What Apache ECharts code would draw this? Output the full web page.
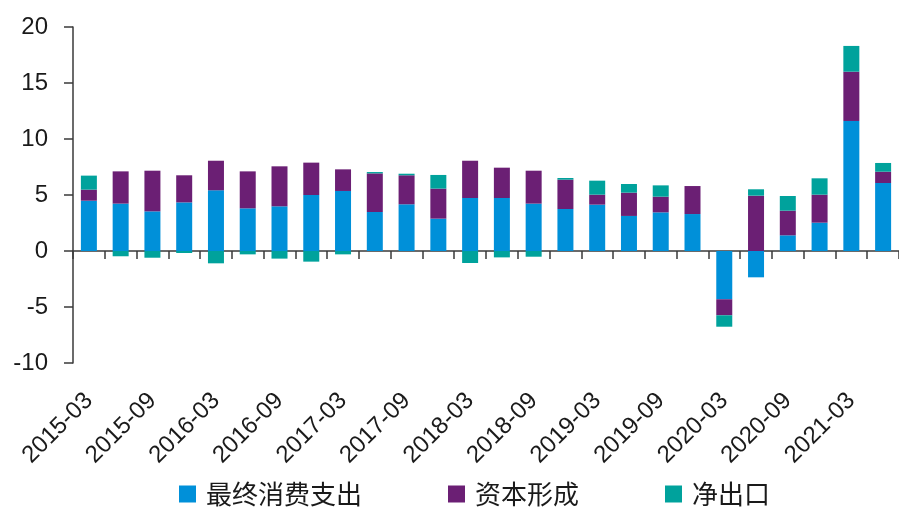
<!DOCTYPE html>
<html>
<head>
<meta charset="utf-8">
<script src="https://cdn.jsdelivr.net/npm/echarts@6/dist/echarts.min.js"></script>
<style>
  html, body { margin: 0; padding: 0; background: #fff; }
  #chart { width: 899px; height: 508px; }
</style>
</head>
<body>
<div id="chart"></div>
<script>
const quarters = ['2015-03','2015-06','2015-09','2015-12','2016-03','2016-06','2016-09','2016-12',
  '2017-03','2017-06','2017-09','2017-12','2018-03','2018-06','2018-09','2018-12',
  '2019-03','2019-06','2019-09','2019-12','2020-03','2020-06','2020-09','2020-12',
  '2021-03','2021-06'];
// 最终消费支出
const consumption = [4.49, 4.23, 3.54, 4.34, 5.42, 3.81, 3.99, 5.0, 5.36, 3.48, 4.17, 2.89, 4.73,
  4.73, 4.23, 3.75, 4.14, 3.13, 3.45, 3.3, -4.31, -2.35, 1.4, 2.53, 11.61, 6.07];
// 资本形成
const capital = [0.99, 2.88, 3.63, 2.42, 2.64, 3.3, 3.57, 2.89, 1.93, 3.45, 2.59, 2.68, 3.33,
  2.71, 2.94, 2.62, 0.89, 2.08, 1.4, 2.5, -1.43, 4.94, 2.2, 2.5, 4.4, 1.01];
// 净出口
const netExport = [1.25, -0.47, -0.6, -0.18, -1.1, -0.3, -0.68, -0.95, -0.3, 0.12, 0.14, 1.22, -1.07,
  -0.57, -0.51, 0.15, 1.25, 0.77, 1.01, 0, -1.02, 0.57, 1.31, 1.46, 2.3, 0.78];
const yTicks = { min: -10, max: 20, step: 5 };

const axisColor = '#3a3a3a';
const textColor = '#1a1a1a';
const numFont = '"Liberation Sans", Arial, sans-serif';
const cjkFont = '"Noto Sans CJK SC", sans-serif';

const myChart = echarts.init(document.getElementById('chart'));
const option = {
  backgroundColor: '#ffffff',
  animation: false,
  grid: {
    left: 73,
    top: 27,
    width: 831,
    bottom: 145
  },
  legend: {
    left: 174,
    top: 476,
    itemWidth: 17,
    itemHeight: 17,
    itemGap: 86,
    icon: 'rect',
    textStyle: {
      fontSize: 26,
      color: textColor,
      fontFamily: cjkFont,
      padding: [0, 0, 0, 5]
    },
    data: ['最终消费支出', '资本形成', '净出口']
  },
  xAxis: [
    {
      // labels at the bottom of the grid
      type: 'category',
      data: quarters,
      position: 'bottom',
      axisLine: { show: false, onZero: false },
      axisTick: { show: false },
      axisLabel: {
        interval: 1,
        rotate: 45,
        margin: 34,
        fontSize: 24,
        color: textColor,
        fontFamily: numFont
      }
    },
    {
      // zero line with ticks between quarters
      type: 'category',
      data: quarters,
      position: 'bottom',
      axisLine: { show: true, onZero: true, lineStyle: { color: axisColor, width: 1.5 } },
      axisTick: { show: true, interval: 0, length: 8, lineStyle: { color: axisColor, width: 1.5 } },
      axisLabel: { show: false }
    }
  ],
  yAxis: {
    type: 'value',
    min: yTicks.min,
    max: yTicks.max,
    interval: yTicks.step,
    axisLine: { show: true, lineStyle: { color: axisColor, width: 1.5 } },
    axisTick: { show: true, length: 9, lineStyle: { color: axisColor, width: 1.5 } },
    splitLine: { show: false },
    axisLabel: {
      margin: 25,
      fontSize: 24,
      color: textColor,
      fontFamily: numFont
    }
  },
  series: [
    {
      name: '最终消费支出',
      type: 'bar',
      stack: 'gdp',
      barWidth: 16,
      itemStyle: { color: '#0090d9' },
      data: consumption
    },
    {
      name: '资本形成',
      type: 'bar',
      stack: 'gdp',
      barWidth: 16,
      itemStyle: { color: '#6b1f74' },
      data: capital
    },
    {
      name: '净出口',
      type: 'bar',
      stack: 'gdp',
      barWidth: 16,
      itemStyle: { color: '#00a29c' },
      data: netExport
    }
  ]
};
option && myChart.setOption(option);
</script>
</body>
</html>
